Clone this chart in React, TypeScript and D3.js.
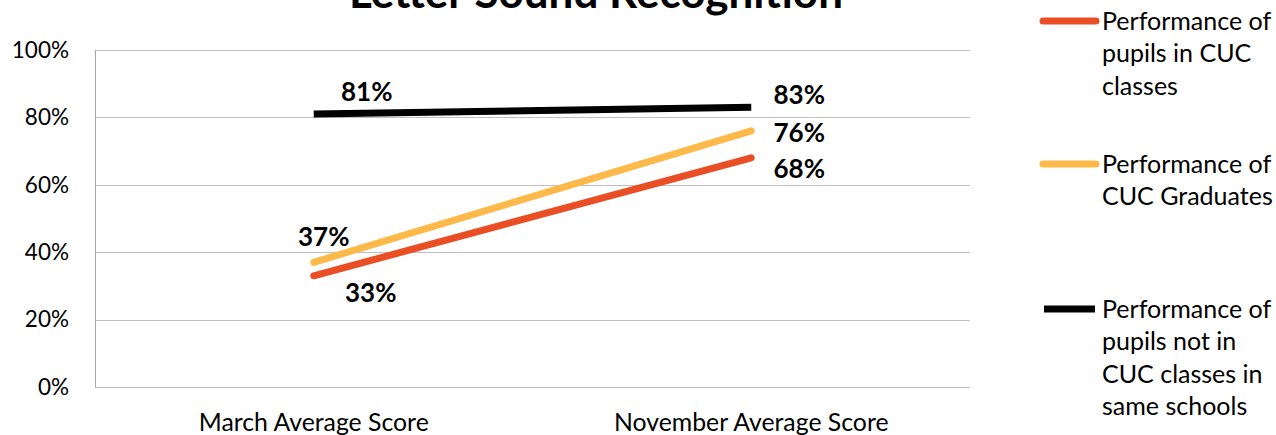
import React, { useEffect, useRef } from 'react';
import * as d3 from 'd3';

const categories = ['March Average Score', 'November Average Score'];
const seriesNames = [
  'Performance of pupils in CUC classes',
  'Performance of CUC Graduates',
  'Performance of pupils not in CUC classes in same schools',
];
const inCuc = [0.33, 0.68];
const graduates = [0.37, 0.76];
const notInCuc = [0.81, 0.83];
const yTicks = [0, 0.2, 0.4, 0.6, 0.8, 1];

// legend text lines, as wrapped in the original
const legendLines = [
  ['Performance of', 'pupils in CUC', 'classes'],
  ['Performance of', 'CUC Graduates'],
  ['Performance of', 'pupils not in', 'CUC classes in', 'same schools'],
];

const FONT = 'Lato, "Open Sans", sans-serif';

const App: React.FC = () => {
  const svgRef = useRef<SVGSVGElement | null>(null);

  useEffect(() => {
    if (!svgRef.current) return;
    const svg = d3.select(svgRef.current);
    svg.selectAll('*').remove();

    const width = 1276;
    const height = 435;
    const margin = { top: 50, right: 306, bottom: 48, left: 95 };
    const innerW = width - margin.left - margin.right;
    const innerH = height - margin.top - margin.bottom;

    const x = d3.scalePoint<string>().domain(categories).range([0, innerW]).padding(0.5);
    const y = d3.scaleLinear().domain([0, 1]).range([innerH, 0]);

    svg.append('rect').attr('width', width).attr('height', height).attr('fill', '#fff');

    // title (clipped at top like the original)
    svg.append('text')
      .attr('x', 596)
      .attr('y', 8)
      .attr('text-anchor', 'middle')
      .style('font-family', FONT)
      .style('font-size', '44px')
      .style('font-weight', 700)
      .attr('fill', '#000')
      .text('Letter Sound Recognition');

    const g = svg.append('g').attr('transform', `translate(${margin.left},${margin.top})`);

    // gridlines
    g.selectAll('line.grid')
      .data(yTicks)
      .enter()
      .append('line')
      .attr('class', 'grid')
      .attr('x1', 0)
      .attr('x2', innerW)
      .attr('y1', d => Math.round(y(d)) + 0.5)
      .attr('y2', d => Math.round(y(d)) + 0.5)
      .attr('stroke', '#bfbfbf')
      .attr('stroke-width', 1);

    // y axis line
    g.append('line')
      .attr('x1', 0.5).attr('x2', 0.5)
      .attr('y1', 0).attr('y2', innerH)
      .attr('stroke', '#a6a6a6');

    // y tick labels
    g.selectAll('text.ytick')
      .data(yTicks)
      .enter()
      .append('text')
      .attr('x', -26)
      .attr('y', d => y(d))
      .attr('dy', '0.35em')
      .attr('text-anchor', 'end')
      .style('font-family', FONT)
      .style('font-size', '22.5px')
      .attr('fill', '#000')
      .text(d => d3.format('.0%')(d));

    // x labels
    g.selectAll('text.xtick')
      .data(categories)
      .enter()
      .append('text')
      .attr('x', d => x(d) || 0)
      .attr('y', innerH + 44)
      .attr('text-anchor', 'middle')
      .style('font-family', FONT)
      .style('font-size', '24.8px')
      .attr('fill', '#000')
      .text(d => d);

    const series = [
      { name: seriesNames[0], values: inCuc, color: '#E94E24', cap: 'round' },
      { name: seriesNames[1], values: graduates, color: '#FDB94A', cap: 'round' },
      { name: seriesNames[2], values: notInCuc, color: '#000000', cap: 'butt' },
    ];

    const line = d3.line<number>()
      .x((_, i) => x(categories[i]) || 0)
      .y(d => y(d));

    series.forEach(s => {
      g.append('path')
        .datum(s.values)
        .attr('d', line)
        .attr('fill', 'none')
        .attr('stroke', s.color)
        .attr('stroke-width', 7)
        .attr('stroke-linecap', s.cap);
    });

    // data labels: [series index, point index, dx, dy]
    const labelPos: [number, number, number, number][] = [
      [0, 0, 57, 17],
      [0, 1, 48, 11],
      [1, 0, 10, -25],
      [1, 1, 48, 2],
      [2, 0, 53, -22],
      [2, 1, 48, -12],
    ];
    labelPos.forEach(([si, pi, dx, dy]) => {
      const v = series[si].values[pi];
      g.append('text')
        .attr('x', (x(categories[pi]) || 0) + dx)
        .attr('y', y(v) + dy)
        .attr('dy', '0.35em')
        .attr('text-anchor', 'middle')
        .style('font-family', FONT)
        .style('font-size', '26px')
        .style('font-weight', 700)
        .attr('fill', '#000')
        .text(d3.format('.0%')(v));
    });

    // legend
    const legendTop = [21, 164, 309];
    const lineH = 32.5;
    series.forEach((s, i) => {
      const lg = svg.append('g').attr('transform', `translate(0,${legendTop[i]})`);
      lg.append('line')
        .attr('x1', s.cap === 'round' ? 1043 : 1044)
        .attr('x2', s.cap === 'round' ? 1096 : 1095)
        .attr('y1', 0).attr('y2', 0)
        .attr('stroke', s.color)
        .attr('stroke-width', 7)
        .attr('stroke-linecap', s.cap);
      legendLines[i].forEach((t, j) => {
        lg.append('text')
          .attr('x', 1102)
          .attr('y', j * lineH)
          .attr('dy', '0.35em')
          .style('font-family', FONT)
          .style('font-size', '25px')
          .attr('fill', '#000')
          .text(t);
      });
    });
  }, []);

  return (
    <svg ref={svgRef} width={1276} height={435} style={{ position: 'absolute', left: 0, top: 0 }} />
  );
};

export default App;
